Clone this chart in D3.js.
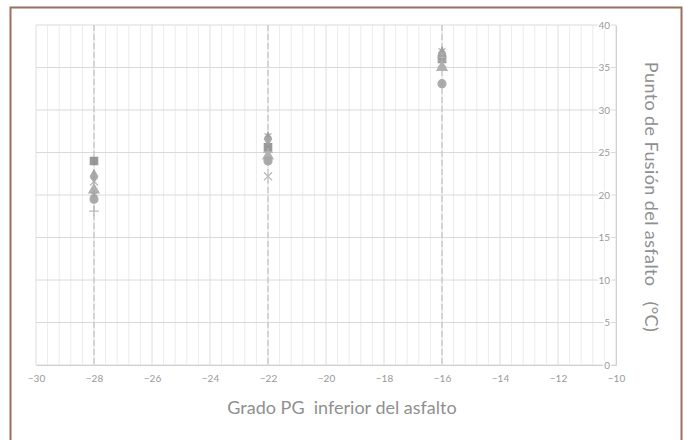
<!DOCTYPE html>
<html>
<head>
<meta charset="utf-8">
<script src="https://cdn.jsdelivr.net/npm/d3@7"></script>
<style>
  body { margin: 0; background: #fff; }
  svg text { font-family: Lato, "Open Sans", sans-serif; }
</style>
</head>
<body>
<svg id="chart" width="684" height="440"></svg>
<script>
// grado PG inferior (x) en cada grupo
const grados = [-28, -22, -16];

// punto de fusion por serie (una forma de marcador por serie)
const serieDiamante = [22.2, 26.6, 36.6];
const serieCuadrado = [24.0, 25.6, 36.0];
const serieTriangulo = [20.6, 24.6, 35.0];
const serieCruzX = [21.6, 22.2, 35.5];
const serieEstrella = [20.1, 27.0, 37.0];
const serieCirculo = [19.5, 24.0, 33.1];
const serieMas = [18.1, 25.0, 36.2];

const xTicks = [-30, -28, -26, -24, -22, -20, -18, -16, -14, -12, -10];
const yTicks = [0, 5, 10, 15, 20, 25, 30, 35, 40];

// "+" de trazo fino (la cruz de d3 es rellena)
const plusFino = {
  draw(ctx, size) {
    const r = Math.sqrt(size) / 1.6;
    ctx.moveTo(-r, 0); ctx.lineTo(r, 0);
    ctx.moveTo(0, -r); ctx.lineTo(0, r);
  }
};

const series = [
  {simbolo: d3.symbolSquare, vals: serieCuadrado, color: '#8e8e8e', size: 55, relleno: true},
  {simbolo: d3.symbolDiamond, vals: serieDiamante, color: '#a0a0a0', size: 45, relleno: true},
  {simbolo: d3.symbolTriangle, vals: serieTriangulo, color: '#aaaaaa', size: 45, relleno: true},
  {simbolo: d3.symbolX, vals: serieCruzX, color: '#b0b0b0', size: 45, relleno: false},
  {simbolo: d3.symbolAsterisk, vals: serieEstrella, color: '#a0a0a0', size: 45, relleno: false},
  {simbolo: d3.symbolCircle, vals: serieCirculo, color: '#a3a3a3', size: 50, relleno: true},
  {simbolo: plusFino, vals: serieMas, color: '#b3b3b3', size: 60, relleno: false}
];

const svg = d3.select('#chart');

// marco
svg.append('rect')
  .attr('x', 10.5).attr('y', 7.5)
  .attr('width', 671).attr('height', 450)
  .attr('fill', 'none')
  .attr('stroke', '#9c6e5e')
  .attr('stroke-width', 2);

const x = d3.scaleLinear().domain([-30, -10]).range([36, 616]);
const y = d3.scaleLinear().domain([0, 40]).range([365, 25]);

// rejilla vertical (cada 0.4)
const minor = d3.range(0, 51).map(i => -30 + i * 0.4);
svg.append('g').selectAll('line')
  .data(minor)
  .join('line')
  .attr('x1', d => x(d)).attr('x2', d => x(d))
  .attr('y1', y(40)).attr('y2', y(0))
  .attr('stroke', (d, i) => i % 5 === 0 ? '#dedede' : '#ececec')
  .attr('stroke-width', 1);

// rejilla horizontal
svg.append('g').selectAll('line')
  .data(yTicks)
  .join('line')
  .attr('x1', x(-30)).attr('x2', x(-10))
  .attr('y1', d => y(d)).attr('y2', d => y(d))
  .attr('stroke', '#dadada');

// lineas discontinuas en cada grado
svg.append('g').selectAll('line')
  .data(grados)
  .join('line')
  .attr('x1', d => x(d)).attr('x2', d => x(d))
  .attr('y1', y(40)).attr('y2', y(0))
  .attr('stroke', '#c4c4c4')
  .attr('stroke-width', 1.2)
  .attr('stroke-dasharray', '6,3');

// eje x
const xAxis = d3.axisBottom(x).tickValues(xTicks).tickSize(0).tickPadding(10);
const gx = svg.append('g').attr('transform', `translate(0,${y(0)})`).call(xAxis);
gx.select('.domain').attr('stroke', '#d0d0d0');
gx.selectAll('text').attr('fill', '#999').style('font-size', '10px');

// eje y a la derecha, etiquetas encima de la rejilla
const yAxis = d3.axisLeft(y).tickValues(yTicks).tickSize(0).tickPadding(6);
const gy = svg.append('g').attr('transform', `translate(${x(-10)},0)`).call(yAxis);
gy.select('.domain').attr('stroke', '#d0d0d0');
gy.selectAll('text')
  .attr('fill', '#999')
  .style('font-size', '10px')
  .attr('stroke', '#fff').attr('stroke-width', 3)
  .style('paint-order', 'stroke');

// marcadores
series.forEach(s => {
  svg.append('g').selectAll('path')
    .data(s.vals)
    .join('path')
    .attr('transform', (d, i) => `translate(${x(grados[i])},${y(d)})`)
    .attr('d', d3.symbol().type(s.simbolo).size(s.size))
    .attr('fill', s.relleno ? s.color : 'none')
    .attr('stroke', s.color)
    .attr('stroke-width', 1.2)
    .attr('opacity', 0.9);
});

// titulos
svg.append('text')
  .attr('x', 342).attr('y', 414)
  .attr('text-anchor', 'middle')
  .attr('fill', '#8f8f8f')
  .style('font-size', '18px')
  .style('white-space', 'pre')
  .text('Grado PG  inferior del asfalto');

svg.append('text')
  .attr('transform', 'translate(645,197) rotate(90)')
  .attr('text-anchor', 'middle')
  .attr('fill', '#8f8f8f')
  .style('font-size', '18px')
  .style('letter-spacing', '0.4px')
  .style('white-space', 'pre')
  .text('Punto de Fusión del asfalto   (°C)');
</script>
</body>
</html>
